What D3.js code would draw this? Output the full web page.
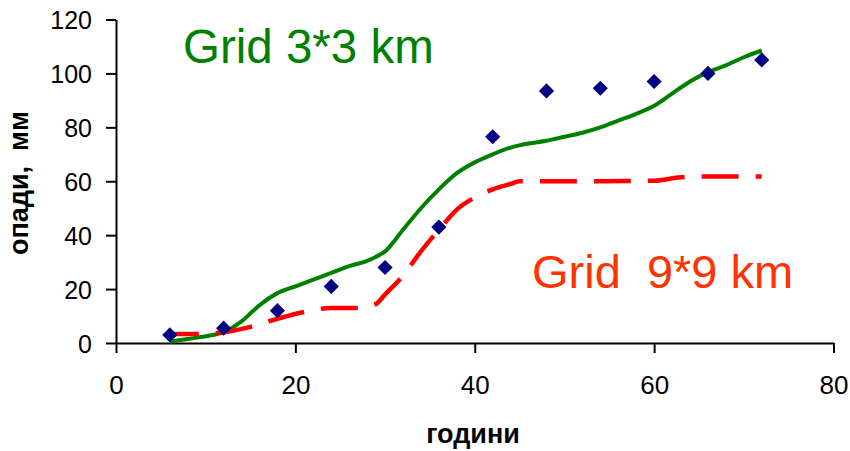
<!DOCTYPE html>
<html>
<head>
<meta charset="utf-8">
<script src="https://cdn.jsdelivr.net/npm/d3@7"></script>
<style>
  body { margin: 0; background: #fff; }
  svg { display: block; font-family: Arial, 'Liberation Sans', sans-serif; }
</style>
</head>
<body>
<figure id="chart" style="margin:0"></figure>
<script>
// observed values (diamonds)
const obsHours = [6, 12, 18, 24, 30, 36, 42, 48, 54, 60, 66, 72];
const obsValues = [3, 5.5, 12, 21, 28, 43, 76.5, 93.5, 94.5, 97, 100, 105];

// model, grid 3*3 km
const grid3Hours = [6, 8, 10, 12, 14, 15, 16, 18, 20, 22, 24, 26, 28, 29, 30, 32, 34, 36, 38, 40, 42, 44, 46, 48, 50, 52, 54, 56, 58, 60, 62, 64, 66, 68, 70, 72];
const grid3Values = [0.5, 1.5, 2.5, 4, 8, 11, 14, 18.5, 21, 23.5, 26, 28.5, 30.5, 32, 34, 42, 50, 57, 63, 67, 70, 72.5, 74, 75, 76.5, 78, 80, 82.5, 85, 88, 92.5, 97, 100.5, 103, 106, 108.5];

// model, grid 9*9 km
const grid9Hours = [6, 9, 12, 15, 18, 21, 24, 27, 29, 30, 32, 34, 36, 38, 40, 42, 44, 45, 48, 54, 60, 63, 66, 72];
const grid9Values = [3.3, 3.3, 4, 6, 9, 11.5, 13, 13, 14.5, 18, 25, 34, 42, 49.5, 54, 57, 59, 60, 60, 60, 60.2, 61.5, 61.8, 61.8];

const xTicks = [0, 20, 40, 60, 80];
const yTicks = [0, 20, 40, 60, 80, 100, 120];

const width = 850;
const height = 451;

const svg = d3
  .select('figure#chart')
  .append('svg')
  .attr('width', width)
  .attr('height', height);

const x = d3.scaleLinear().domain([0, 80]).range([116, 833.5]);
const y = d3.scaleLinear().domain([0, 120]).range([343, 19.5]);

// Y axis
const gy = svg
  .append('g')
  .attr('transform', 'translate(' + x(0) + ',0)')
  .call(d3.axisLeft(y).tickValues(yTicks).tickSize(10).tickSizeOuter(0).tickPadding(14));
gy.selectAll('text')
  .style('font-size', '25px')
  .attr('fill', '#000')
  .attr('dy', '0.36em');

// X axis
const gx = svg
  .append('g')
  .attr('transform', 'translate(0,' + y(0) + ')')
  .call(d3.axisBottom(x).tickValues(xTicks).tickSize(10).tickSizeOuter(0));
gx.selectAll('text')
  .style('font-size', '26px')
  .attr('fill', '#000')
  .attr('y', 51)
  .attr('dy', 0);

svg.selectAll('.domain, .tick line')
  .attr('stroke', '#000')
  .attr('stroke-width', 2);

// axis titles
svg
  .append('text')
  .attr('x', 473)
  .attr('y', 443)
  .attr('text-anchor', 'middle')
  .style('font-size', '27px')
  .style('font-weight', 'bold')
  .text('години');

svg
  .append('text')
  .attr('transform', 'translate(28,183) rotate(-90)')
  .attr('text-anchor', 'middle')
  .style('font-size', '27px')
  .style('font-weight', 'bold')
  .style('white-space', 'pre')
  .text('опади,  мм');

const line = d3
  .line()
  .x((d) => x(d[0]))
  .y((d) => y(d[1]))
  .curve(d3.curveMonotoneX);

// grid 3*3 km line
svg
  .append('path')
  .datum(d3.zip(grid3Hours, grid3Values))
  .attr('d', line)
  .style('fill', 'none')
  .style('stroke', '#008000')
  .style('stroke-width', 4);

// grid 9*9 km dashed line
svg
  .append('path')
  .datum(d3.zip(grid9Hours, grid9Values))
  .attr('d', line)
  .style('fill', 'none')
  .style('stroke', '#ff0000')
  .style('stroke-width', 4.5)
  .style('stroke-dasharray', '37,17')
  .style('stroke-dashoffset', 8);

// observed diamonds
svg
  .selectAll('path.obs')
  .data(d3.zip(obsHours, obsValues))
  .enter()
  .append('path')
  .attr('class', 'obs')
  .attr('d', d3.symbol(d3.symbolSquare, 115))
  .attr('transform', (d) => 'translate(' + x(d[0]) + ',' + y(d[1]) + ') rotate(45)')
  .attr('fill', '#000080');

// series labels
svg
  .append('text')
  .attr('x', 183)
  .attr('y', 63)
  .style('font-size', '47.5px')
  .attr('fill', '#008000')
  .text('Grid 3*3 km');

svg
  .append('text')
  .attr('x', 532)
  .attr('y', 288)
  .style('font-size', '47px')
  .style('white-space', 'pre')
  .attr('fill', '#ff3300')
  .text('Grid  9*9 km');
</script>
</body>
</html>
